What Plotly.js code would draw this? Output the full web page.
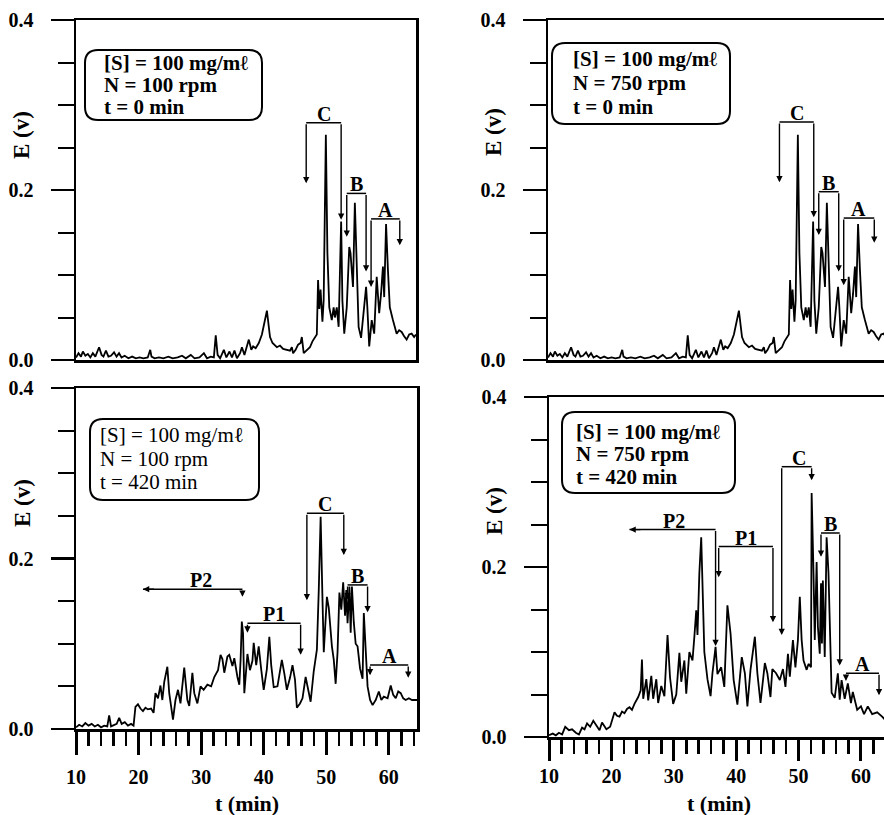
<!DOCTYPE html>
<html>
<head>
<meta charset="utf-8">
<script src="https://cdn.plot.ly/plotly-3.0.1.min.js"></script>
<style>
html,body{margin:0;padding:0;overflow:hidden;background:#fff;}
#chart{width:900px;height:815px;}
</style>
</head>
<body>
<div id="chart"></div>
<script>
// ---------- DATA ----------
// t = 0 min (same record at N = 100 rpm and N = 750 rpm)
const t0_x = [10.0,10.4,10.8,11.1,11.5,11.9,12.3,12.7,13.1,13.7,14.1,14.4,14.8,15.2,15.6,16.1,16.5,16.9,17.3,17.8,18.4,19.0,19.6,20.2,20.8,21.5,21.9,22.1,22.6,23.3,24.0,24.8,25.5,26.3,27.0,27.6,28.4,29.0,29.8,30.5,31.0,31.6,32.1,32.4,32.7,33.1,33.7,34.1,34.6,35.0,35.4,35.8,36.3,36.6,37.0,37.4,37.7,38.1,38.4,38.8,39.3,39.8,40.3,40.6,41.1,41.5,42.2,42.7,43.2,43.8,44.3,44.6,44.8,45.2,45.6,46.0,46.2,46.5,47.0,47.5,47.9,48.3,48.6,48.8,49.0,49.2,49.5,49.7,49.9,50.05,50.3,50.6,51.0,51.3,51.5,51.8,52.1,52.3,52.5,52.7,53.0,53.4,53.8,54.0,54.2,54.4,54.7,55.0,55.3,55.7,56.0,56.5,56.7,57.0,57.4,57.8,58.2,58.6,58.9,59.2,59.4,59.7,60.0,60.3,60.8,61.4,61.8,62.2,62.6,63.0,63.4,63.8,64.2,64.5];
const t0_E = [0.003,0.008,0.004,0.010,0.005,0.007,0.003,0.008,0.004,0.015,0.006,0.004,0.011,0.004,0.005,0.009,0.004,0.008,0.003,0.005,0.002,0.004,0.002,0.003,0.002,0.003,0.012,0.004,0.002,0.003,0.002,0.004,0.002,0.003,0.005,0.002,0.006,0.002,0.003,0.008,0.002,0.004,0.003,0.029,0.006,0.002,0.012,0.003,0.010,0.003,0.011,0.002,0.008,0.015,0.006,0.018,0.024,0.012,0.016,0.014,0.020,0.030,0.047,0.058,0.027,0.020,0.015,0.017,0.013,0.012,0.011,0.015,0.008,0.012,0.018,0.020,0.027,0.008,0.012,0.015,0.022,0.027,0.030,0.094,0.060,0.083,0.045,0.070,0.180,0.265,0.126,0.062,0.047,0.062,0.050,0.062,0.039,0.126,0.163,0.070,0.031,0.062,0.133,0.126,0.102,0.086,0.185,0.094,0.039,0.026,0.047,0.086,0.062,0.016,0.047,0.031,0.098,0.055,0.078,0.110,0.074,0.160,0.106,0.062,0.047,0.031,0.035,0.033,0.028,0.024,0.030,0.031,0.027,0.030];

// t = 420 min, N = 100 rpm
const a420_x = [10.0,10.5,11.0,11.5,12.0,12.5,13.0,13.5,14.0,14.5,15.0,15.3,15.6,16.0,16.5,16.9,17.3,17.8,18.3,18.8,19.2,19.5,19.9,20.3,20.7,21.1,21.5,22.0,22.4,22.7,23.1,23.5,23.8,24.1,24.6,24.9,25.2,25.5,25.9,26.3,26.7,27.0,27.3,27.8,28.1,28.6,28.9,29.4,29.9,30.4,31.0,31.6,32.1,32.7,33.1,33.4,33.7,34.2,34.5,35.0,35.3,35.8,36.1,36.3,36.5,36.7,36.9,37.4,37.8,38.2,38.4,38.8,39.2,39.6,40.0,40.5,40.9,41.2,41.6,42.2,42.9,43.3,43.7,44.2,44.6,45.0,45.3,45.8,46.2,46.7,47.1,47.5,48.0,48.5,48.8,49.1,49.4,49.6,50.1,50.4,50.9,51.2,51.5,51.8,52.1,52.4,52.7,53.0,53.2,53.4,53.7,53.9,54.1,54.4,54.7,55.0,55.4,55.8,56.0,56.3,56.6,57.0,57.4,57.9,58.4,58.8,59.2,59.8,60.3,60.7,61.1,61.5,61.9,62.3,62.7,63.2,63.7,64.5];
const a420_E = [0.002,0.005,0.003,0.007,0.004,0.006,0.003,0.005,0.002,0.004,0.003,0.016,0.003,0.004,0.006,0.013,0.006,0.008,0.004,0.006,0.004,0.026,0.029,0.024,0.021,0.025,0.023,0.024,0.019,0.042,0.036,0.051,0.034,0.055,0.073,0.042,0.027,0.011,0.034,0.046,0.030,0.055,0.072,0.034,0.027,0.066,0.042,0.030,0.050,0.046,0.052,0.050,0.061,0.069,0.087,0.082,0.066,0.085,0.087,0.074,0.083,0.061,0.052,0.080,0.126,0.112,0.042,0.088,0.069,0.080,0.101,0.075,0.097,0.070,0.046,0.070,0.108,0.075,0.049,0.050,0.081,0.065,0.046,0.060,0.075,0.058,0.025,0.030,0.036,0.061,0.045,0.032,0.068,0.093,0.163,0.249,0.150,0.090,0.155,0.142,0.097,0.081,0.053,0.090,0.160,0.140,0.172,0.133,0.163,0.124,0.167,0.113,0.167,0.125,0.100,0.097,0.071,0.059,0.136,0.090,0.050,0.034,0.028,0.034,0.044,0.034,0.038,0.036,0.051,0.040,0.036,0.044,0.042,0.036,0.034,0.036,0.034,0.034];

// t = 420 min, N = 750 rpm
const b420_x = [10.0,10.6,11.1,11.6,12.1,12.6,13.2,13.7,14.3,14.8,15.3,15.7,16.1,16.6,17.1,17.7,18.1,18.5,19.2,19.8,20.5,20.9,21.3,21.7,22.1,22.5,22.9,23.3,23.7,24.3,24.7,24.9,25.1,25.6,25.9,26.4,26.7,27.2,27.5,28.0,28.5,29.0,29.4,29.9,30.4,30.9,31.2,31.7,32.0,32.5,33.0,33.3,33.6,33.8,34.1,34.4,34.6,34.9,35.4,35.9,36.2,36.7,37.0,37.6,38.1,38.6,39.1,39.6,40.2,40.9,41.4,41.8,42.3,43.0,43.4,43.9,44.6,45.0,45.5,45.8,46.4,47.0,47.5,47.9,48.3,48.6,49.1,49.5,49.9,50.2,50.5,50.8,51.3,51.6,52.0,52.1,52.4,52.6,52.9,53.1,53.4,53.6,53.75,53.9,54.2,54.5,54.8,55.1,55.3,55.8,56.3,56.6,56.9,57.4,57.9,58.4,58.7,59.4,60.0,60.5,61.1,61.8,62.6,63.4,63.9,64.5];
const b420_E = [0.002,0.004,0.002,0.005,0.003,0.012,0.008,0.009,0.005,0.003,0.011,0.009,0.016,0.012,0.019,0.012,0.008,0.017,0.009,0.012,0.029,0.025,0.024,0.030,0.028,0.033,0.035,0.032,0.039,0.047,0.055,0.091,0.045,0.068,0.043,0.072,0.045,0.068,0.040,0.060,0.048,0.120,0.070,0.039,0.050,0.099,0.065,0.090,0.051,0.100,0.090,0.118,0.149,0.120,0.193,0.235,0.188,0.100,0.068,0.048,0.075,0.106,0.074,0.082,0.059,0.155,0.122,0.067,0.038,0.094,0.075,0.036,0.079,0.118,0.075,0.040,0.087,0.075,0.047,0.080,0.075,0.067,0.080,0.059,0.098,0.071,0.114,0.082,0.114,0.165,0.114,0.090,0.079,0.086,0.082,0.287,0.193,0.114,0.206,0.130,0.098,0.181,0.110,0.184,0.094,0.235,0.193,0.114,0.052,0.046,0.075,0.044,0.067,0.045,0.063,0.040,0.053,0.032,0.036,0.027,0.036,0.027,0.029,0.024,0.020,0.018];

// Tick labels
const yTickVals = [0, 0.2, 0.4];
const yTickText = ['0.0', '0.2', '0.4'];
const xTickVals = [10, 20, 30, 40, 50, 60];
const xTickText = ['10', '20', '30', '40', '50', '60'];

// Condition boxes (text lines)
const box1 = ['[S] = 100 mg/m\u2113', 'N = 100 rpm', 't = 0 min'];
const box2 = ['[S] = 100 mg/m\u2113', 'N = 750 rpm', 't = 0 min'];
const box3 = ['[S] = 100 mg/m\u2113', 'N = 100 rpm', 't = 420 min'];
const box4 = ['[S] = 100 mg/m\u2113', 'N = 750 rpm', 't = 420 min'];

// Fraction brackets: label, left x, right x, bar height, left end, right end (null = horizontal arrow to the left)
const br1 = [
  {label:'C', x0:46.9, x1:52.5, top:0.279, y0:0.208, y1:0.165},
  {label:'B', x0:53.4, x1:56.5, top:0.196, y0:0.145, y1:0.104},
  {label:'A', x0:57.3, x1:61.9, top:0.166, y0:0.086, y1:0.135}
];
const br2 = [
  {label:'C', x0:47.1, x1:52.6, top:0.280, y0:0.209, y1:0.168},
  {label:'B', x0:53.4, x1:56.6, top:0.198, y0:0.147, y1:0.104},
  {label:'A', x0:57.4, x1:62.3, top:0.167, y0:0.088, y1:0.138}
];
const br3 = [
  {label:'P2', x0:20.7, x1:36.6, top:0.164, y0:null, y1:0.155, lx:29.9},
  {label:'P1', x0:37.4, x1:45.9, top:0.124, y0:0.113, y1:0.087},
  {label:'C', x0:46.9, x1:52.8, top:0.253, y0:0.151, y1:0.204},
  {label:'B', x0:53.4, x1:56.6, top:0.169, y0:0.152, y1:0.137},
  {label:'A', x0:57.0, x1:63.1, top:0.075, y0:0.063, y1:0.060}
];
const br4 = [
  {label:'P2', x0:22.9, x1:36.7, top:0.244, y0:null, y1:0.107, lx:30.1},
  {label:'P1', x0:37.2, x1:45.9, top:0.224, y0:0.188, y1:0.135},
  {label:'C', x0:47.3, x1:52.1, top:0.318, y0:0.120, y1:0.302, lx:50.0},
  {label:'B', x0:53.6, x1:56.6, top:0.240, y0:0.212, y1:0.084},
  {label:'A', x0:57.6, x1:62.9, top:0.075, y0:0.066, y1:0.049}
];

// ---------- LAYOUT ----------
const W = 900, H = 815;
const fx = px => px / W;
const fy = py => 1 - py / H;
const SERIF = 'Liberation Serif, Times New Roman, serif';

const panels = [
  {x:t0_x, y:t0_E, dx:[76,416], dy:[20,360], box:box1, bold:true, boxPx:[85,50,262,120], lines:[102,63,85,107], br:br1, bottom:false, ylab:[22,135]},
  {x:t0_x, y:t0_E, dx:[548,888], dy:[20,360], box:box2, bold:true, boxPx:[552,43,730,124], lines:[571,59,83,107], br:br2, bottom:false, ylab:[494,132]},
  {x:a420_x, y:a420_E, dx:[76,417], dy:[388,729], box:box3, bold:false, boxPx:[90,419,259,500], lines:[98,435,459,482], br:br3, bottom:true, ylab:[22,503], tlen:23, tsep:5},
  {x:b420_x, y:b420_E, dx:[549,889], dy:[397,737], box:box4, bold:true, boxPx:[562,412,735,493], lines:[574,432,454,477], br:br4, bottom:true, ylab:[494,511], tlen:21, tsep:-2}
];

const data = [];
const layout = {
  width: W, height: H,
  margin: {l:0, r:0, t:0, b:0},
  paper_bgcolor: '#fff', plot_bgcolor: '#fff',
  showlegend: false,
  font: {family: SERIF, color: '#000'},
  shapes: [], annotations: []
};

function roundedPath(x0, y0, x1, y1, r) {
  const X = fx, Y = fy;
  return `M ${X(x0+r)},${Y(y0)} L ${X(x1-r)},${Y(y0)} Q ${X(x1)},${Y(y0)} ${X(x1)},${Y(y0+r)} ` +
         `L ${X(x1)},${Y(y1-r)} Q ${X(x1)},${Y(y1)} ${X(x1-r)},${Y(y1)} ` +
         `L ${X(x0+r)},${Y(y1)} Q ${X(x0)},${Y(y1)} ${X(x0)},${Y(y1-r)} ` +
         `L ${X(x0)},${Y(y0+r)} Q ${X(x0)},${Y(y0)} ${X(x0+r)},${Y(y0)} Z`;
}

panels.forEach((p, i) => {
  const n = i === 0 ? '' : String(i + 1);
  const xa = 'x' + n, ya = 'y' + n;
  data.push({
    type: 'scatter', mode: 'lines', x: p.x, y: p.y,
    xaxis: xa, yaxis: ya,
    line: {color: '#000', width: 1.8, shape: 'linear'},
    hoverinfo: 'skip'
  });
  const xaxis = {
    domain: [fx(p.dx[0]), fx(p.dx[1])],
    anchor: ya, range: [10, 64.5],
    showgrid: false, zeroline: false,
    showline: true, mirror: true, linecolor: '#000', linewidth: 2.5,
    fixedrange: true
  };
  if (p.bottom) {
    Object.assign(xaxis, {
      ticks: 'outside', tickmode: 'array', tickvals: xTickVals, ticktext: xTickText,
      ticklen: p.tlen, tickwidth: 3, tickcolor: '#000',
      ticklabelstandoff: p.tsep,
      tickfont: {family: SERIF, size: 20, color: '#000', weight: 'bold'},
      minor: {ticks: 'outside', dtick: 2, tick0: 10, ticklen: 14, tickwidth: 2.5, tickcolor: '#000', showgrid: false}
    });
  } else {
    Object.assign(xaxis, {ticks: '', showticklabels: false});
  }
  const yaxis = {
    domain: [fy(p.dy[1]), fy(p.dy[0])],
    anchor: xa, range: [0, 0.4],
    showgrid: false, zeroline: false,
    showline: true, mirror: true, linecolor: '#000', linewidth: 2.5,
    ticks: 'outside', tickmode: 'array', tickvals: yTickVals, ticktext: yTickText,
    ticklen: 23, tickwidth: 2.5, tickcolor: '#000',
    ticklabelstandoff: 13,
    tickfont: {family: SERIF, size: 20, color: '#000', weight: 'bold'},
    minor: {ticks: 'outside', dtick: 0.05, tick0: 0, ticklen: 16, tickwidth: 2, tickcolor: '#000', showgrid: false},
    fixedrange: true
  };
  layout['xaxis' + n] = xaxis;
  layout['yaxis' + n] = yaxis;

  // y-axis title
  layout.annotations.push({
    xref: 'paper', yref: 'paper', x: fx(p.ylab[0]), y: fy(p.ylab[1]),
    text: '<b>E (v)</b>', textangle: -90, showarrow: false,
    xanchor: 'center', yanchor: 'middle',
    font: {family: SERIF, size: 23, color: '#000'}
  });
  if (p.bottom) {
    layout.annotations.push({
      xref: 'paper', yref: 'paper', x: fx((p.dx[0] + p.dx[1]) / 2), y: fy(803),
      text: '<b>t (min)</b>', showarrow: false,
      xanchor: 'center', yanchor: 'middle',
      font: {family: SERIF, size: 22, color: '#000'}
    });
  }

  // rounded condition box
  const b = p.boxPx;
  layout.shapes.push({
    type: 'path', xref: 'paper', yref: 'paper',
    path: roundedPath(b[0], b[1], b[2], b[3], 13),
    line: {color: '#000', width: 2}, fillcolor: 'rgba(0,0,0,0)'
  });
  p.box.forEach((txt, k) => {
    layout.annotations.push({
      xref: 'paper', yref: 'paper', x: fx(p.lines[0]), y: fy(p.lines[k + 1]),
      text: p.bold ? '<b>' + txt + '</b>' : txt,
      showarrow: false, xanchor: 'left', yanchor: 'middle',
      font: {family: SERIF, size: 21, color: '#000'}
    });
  });

  // brackets
  p.br.forEach(q => {
    layout.shapes.push({
      type: 'line', xref: xa, yref: ya, x0: q.x0, x1: q.x1, y0: q.top, y1: q.top,
      line: {color: '#000', width: 1.5}
    });
    const arrow = (hx, hy, tx, ty) => ({
      xref: xa, yref: ya, axref: xa, ayref: ya,
      x: hx, y: hy, ax: tx, ay: ty, text: '',
      showarrow: true, arrowhead: 2, arrowsize: 0.9, arrowwidth: 1.4, arrowcolor: '#000',
      standoff: 0, startstandoff: 0
    });
    if (q.y0 === null) {
      layout.annotations.push(arrow(q.x0, q.top, q.x0 + 2, q.top));
    } else {
      layout.annotations.push(arrow(q.x0, q.y0, q.x0, q.top));
    }
    layout.annotations.push(arrow(q.x1, q.y1, q.x1, q.top));
    layout.annotations.push({
      xref: xa, yref: ya, x: q.lx !== undefined ? q.lx : (q.x0 + q.x1) / 2, y: q.top,
      text: '<b>' + q.label + '</b>', showarrow: false,
      xanchor: 'center', yanchor: 'bottom', yshift: -4,
      font: {family: SERIF, size: 20, color: '#000'}
    });
  });
});

Plotly.newPlot('chart', data, layout, {displayModeBar: false, staticPlot: true});
</script>
</body>
</html>
